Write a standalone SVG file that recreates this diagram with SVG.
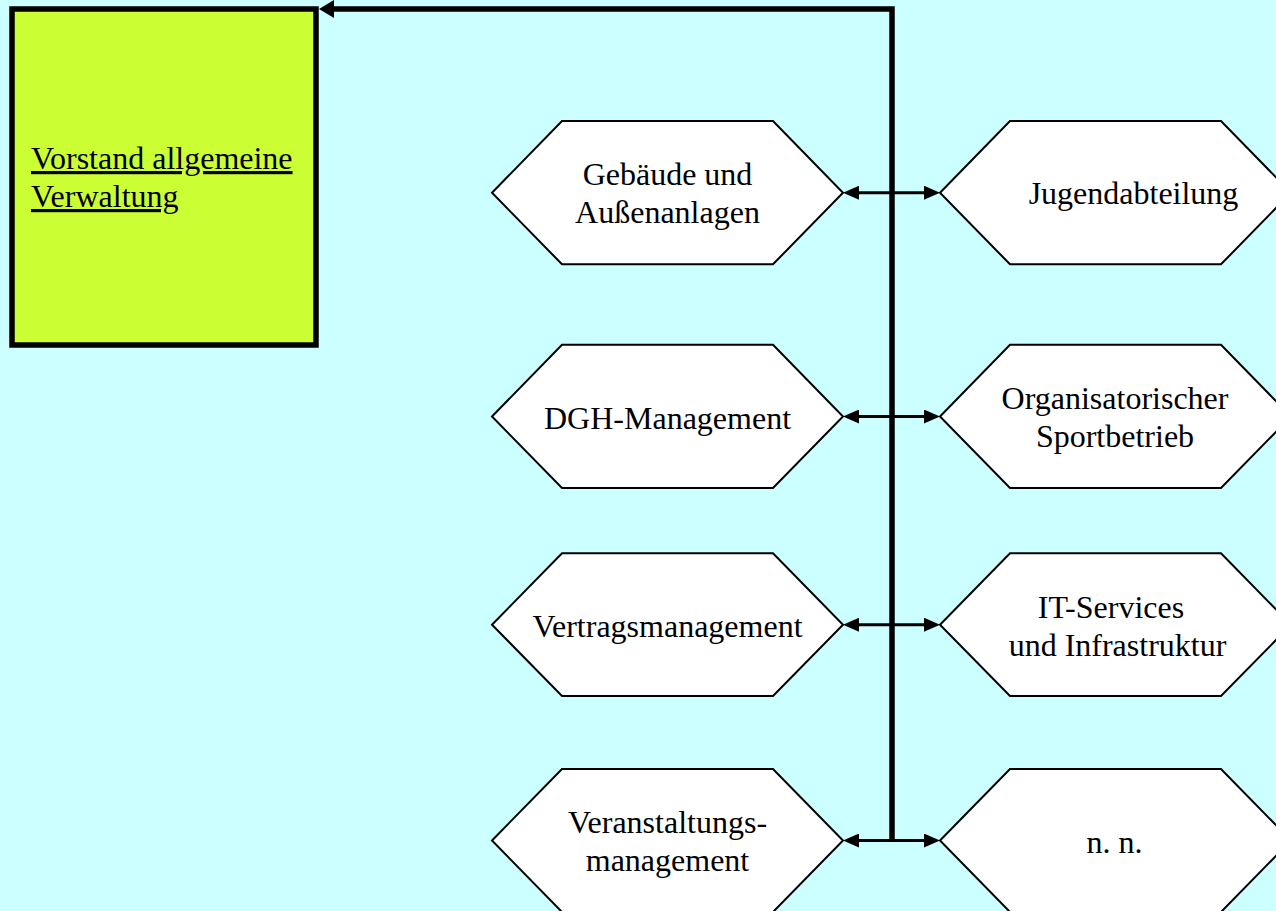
<svg xmlns="http://www.w3.org/2000/svg" width="1276" height="911" viewBox="0 0 1276 911">
<style>
.bg{fill:#CCFFFF}
.hex{fill:#FFFFFF;stroke:#000;stroke-width:2;stroke-linejoin:miter}
.t{font-family:"Liberation Serif","Times New Roman",serif;font-size:32px;fill:#000;text-anchor:middle}
.tl{font-family:"Liberation Serif","Times New Roman",serif;font-size:32px;fill:#000;text-decoration:underline}
.main{fill:#CCFF33;stroke:#000;stroke-width:5.5}
.trunk{fill:none;stroke:#000;stroke-width:5.5;stroke-linejoin:miter}
.branch{stroke:#000;stroke-width:3}
</style>
<defs>
<marker id="arr" markerUnits="userSpaceOnUse" markerWidth="16" markerHeight="14" viewBox="0 0 16 14" refX="9" refY="7" orient="auto-start-reverse">
<path d="M0,0 L16,7 L0,14 z" fill="#000"/>
</marker>
<marker id="arrBig" markerUnits="userSpaceOnUse" markerWidth="15" markerHeight="18" viewBox="0 0 15 18" refX="4" refY="9" orient="auto">
<path d="M0,0 L15,9 L0,18 z" fill="#000"/>
</marker>
</defs>
<rect class="bg" x="0" y="0" width="1276" height="911"/>

<g id="connectors">
<polyline class="trunk" points="892,840.5 892,9 330,9" marker-end="url(#arrBig)"/>
<line class="branch" x1="850" y1="192.7" x2="933" y2="192.7" marker-start="url(#arr)" marker-end="url(#arr)"/>
<line class="branch" x1="850" y1="416.5" x2="933" y2="416.5" marker-start="url(#arr)" marker-end="url(#arr)"/>
<line class="branch" x1="850" y1="624.7" x2="933" y2="624.7" marker-start="url(#arr)" marker-end="url(#arr)"/>
<line class="branch" x1="850" y1="840.5" x2="933" y2="840.5" marker-start="url(#arr)" marker-end="url(#arr)"/>
</g>

<g id="vorstand">
<rect class="main" x="12" y="9" width="304" height="336"/>
<text class="tl" x="31" y="169">Vorstand allgemeine</text>
<text class="tl" x="31" y="207">Verwaltung</text>
</g>

<g id="gebaeude">
<polygon class="hex" points="492,192.7 562,121 773,121 843,192.7 773,264.3 562,264.3"/>
<text class="t" x="667.5" y="185">Gebäude und</text>
<text class="t" x="667.5" y="223">Außenanlagen</text>
</g>
<g id="jugend">
<polygon class="hex" points="940,192.7 1010,121 1221,121 1291,192.7 1221,264.3 1010,264.3"/>
<text class="t" x="1133.5" y="204.3">Jugendabteilung</text>
</g>

<g id="dgh">
<polygon class="hex" points="492,416.5 562,344.7 773,344.7 843,416.5 773,488 562,488"/>
<text class="t" x="667.5" y="428.7">DGH-Management</text>
</g>
<g id="sportbetrieb">
<polygon class="hex" points="940,416.5 1010,344.7 1221,344.7 1291,416.5 1221,488 1010,488"/>
<text class="t" x="1115" y="409">Organisatorischer</text>
<text class="t" x="1115" y="447.3">Sportbetrieb</text>
</g>

<g id="vertrag">
<polygon class="hex" points="492,624.7 562,553.3 773,553.3 843,624.7 773,696 562,696"/>
<text class="t" x="667.5" y="636.7">Vertragsmanagement</text>
</g>
<g id="it">
<polygon class="hex" points="940,624.7 1010,553.3 1221,553.3 1291,624.7 1221,696 1010,696"/>
<text class="t" x="1111" y="617.7">IT-Services</text>
<text class="t" x="1117.5" y="655.7">und Infrastruktur</text>
</g>

<g id="veranstaltung">
<polygon class="hex" points="492,840.5 562,769 773,769 843,840.5 773,912 562,912"/>
<text class="t" x="667.5" y="833.3">Veranstaltungs-</text>
<text class="t" x="667.5" y="870.7">management</text>
</g>
<g id="nn">
<polygon class="hex" points="940,840.5 1010,769 1221,769 1291,840.5 1221,912 1010,912"/>
<text class="t" x="1114.5" y="853.3">n. n.</text>
</g>
</svg>
